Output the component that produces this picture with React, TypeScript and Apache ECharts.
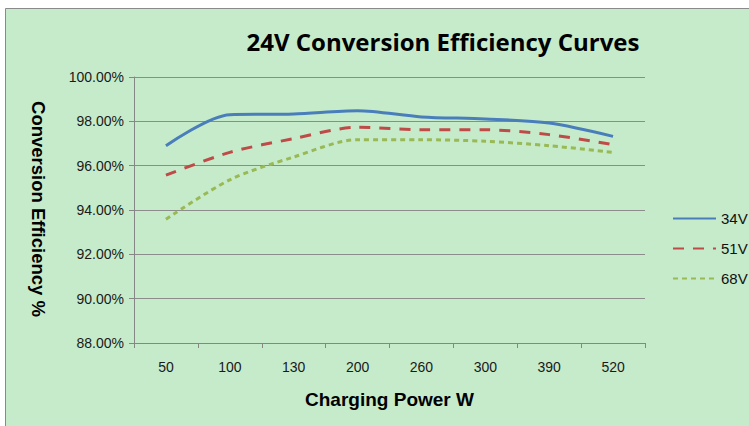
import React, { useEffect, useRef } from "react";
import * as echarts from "echarts";

const categories = ["50", "100", "130", "200", "260", "300", "390", "520"];
const v34 = [96.9, 98.3, 98.33, 98.48, 98.2, 98.11, 97.92, 97.32];
const v51 = [95.57, 96.6, 97.22, 97.73, 97.62, 97.62, 97.4, 96.95];
const v68 = [93.58, 95.36, 96.39, 97.17, 97.17, 97.1, 96.9, 96.6];
const seriesNames = ["34V", "51V", "68V"];
const yAxisTitle = "Conversion Efficiency %";

export default function App() {
  const ref = useRef<HTMLDivElement>(null);
  useEffect(() => {
    const chart = echarts.init(ref.current!, null, { renderer: "svg" });
    const sans = "'Liberation Sans', Arial, sans-serif";
    chart.setOption({
      animation: false,
      backgroundColor: "#ffffff",
      graphic: [
        {
          type: "rect",
          z: -10,
          shape: { x: 5.5, y: 8.5, width: 800, height: 500 },
          style: { fill: "#c6ebcb", stroke: "#8a8a8a", lineWidth: 1 },
        },
        {
          type: "text",
          x: 38,
          y: 209,
          rotation: -Math.PI / 2,
          style: {
            text: yAxisTitle,
            align: "center",
            verticalAlign: "middle",
            font: "bold 18.5px 'Liberation Sans', Arial, sans-serif",
            fill: "#000",
          },
        },
      ],
      title: {
        text: "24V Conversion Efficiency Curves",
        left: 438,
        top: 24,
        textAlign: "center",
        textStyle: {
          fontFamily: "'Open Sans', sans-serif",
          fontWeight: "bold",
          fontSize: 24,
          color: "#000",
        },
      },
      legend: {
        orient: "vertical",
        left: 667,
        top: 206,
        itemWidth: 43,
        itemHeight: 14,
        itemGap: 15,
        data: seriesNames,
        itemStyle: { opacity: 0 },
        textStyle: { fontFamily: sans, fontSize: 15, color: "#111" },
      },
      grid: { left: 134, right: 104, top: 77, bottom: 83 },
      xAxis: {
        type: "category",
        data: categories,
        boundaryGap: true,
        name: "Charging Power W",
        nameLocation: "middle",
        nameGap: 47,
        nameTextStyle: { fontFamily: sans, fontWeight: "bold", fontSize: 19, color: "#000" },
        axisLine: { lineStyle: { color: "#868686" } },
        axisTick: { show: true, alignWithLabel: false, length: 5, lineStyle: { color: "#868686" } },
        axisLabel: { fontFamily: sans, fontSize: 14, color: "#1a1a1a", margin: 17 },
      },
      yAxis: {
        type: "value",
        min: 88,
        max: 100,
        interval: 2,
        axisLine: { show: true, lineStyle: { color: "#868686" } },
        axisTick: { show: true, length: 5, lineStyle: { color: "#868686" } },
        splitLine: { lineStyle: { color: "#8c8c8c" } },
        axisLabel: {
          fontFamily: sans,
          fontSize: 14,
          color: "#1a1a1a",
          margin: 10,
          formatter: (v: number) => v.toFixed(2) + "%",
        },
      },
      series: [
        {
          name: "34V",
          type: "line",
          data: v34,
          smooth: 0.3,
          symbol: "none",
          lineStyle: { color: "#4a7ebb", width: 3 },
          itemStyle: { color: "#4a7ebb" },
        },
        {
          name: "51V",
          type: "line",
          data: v51,
          smooth: 0.3,
          symbol: "none",
          lineStyle: { color: "#be4b48", width: 3, type: [11, 9] },
          itemStyle: { color: "#be4b48" },
        },
        {
          name: "68V",
          type: "line",
          data: v68,
          smooth: 0.3,
          symbol: "none",
          lineStyle: { color: "#98b954", width: 3, type: [5, 4] },
          itemStyle: { color: "#98b954" },
        },
      ],
    });
    return () => chart.dispose();
  }, []);
  return (
    <div
      ref={ref}
      style={{ position: "fixed", left: 0, top: 0, width: 749, height: 426 }}
    />
  );
}
